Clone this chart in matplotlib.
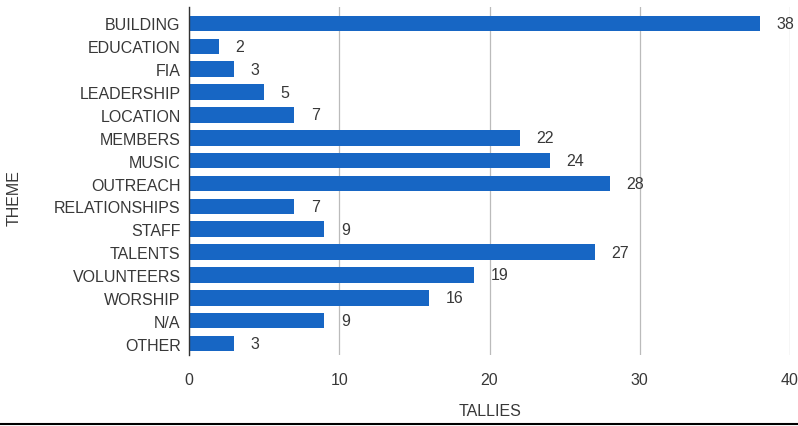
import matplotlib
matplotlib.use("Agg")
import matplotlib.pyplot as plt
from matplotlib.lines import Line2D

themes = ["BUILDING", "EDUCATION", "FIA", "LEADERSHIP", "LOCATION", "MEMBERS", "MUSIC",
          "OUTREACH", "RELATIONSHIPS", "STAFF", "TALENTS", "VOLUNTEERS", "WORSHIP", "N/A", "OTHER"]
tallies = [38, 2, 3, 5, 7, 22, 24, 28, 7, 9, 27, 19, 16, 9, 3]
xticks = [0, 10, 20, 30, 40]

plt.rcParams['font.family'] = ['Liberation Sans', 'DejaVu Sans']
FS = 11.5
TC = '#383838'

fig = plt.figure(figsize=(7.98, 4.27), dpi=100)
ax = fig.add_axes([189/798, 1 - 356/427, (790 - 189)/798, (356 - 8)/427])

y = list(range(len(themes)))
ax.barh(y, tallies, height=0.68, color='#1766c4', zorder=3)
for yi, v in zip(y, tallies):
    ax.text(v + 1.1, yi, str(v), va='center', ha='left', fontsize=FS, color=TC)

ax.set_xlim(0, 40)
ax.set_ylim(14.5, -0.72)
ax.set_yticks(y)
ax.set_yticklabels(themes, fontsize=FS, color=TC)
ax.set_xticks(xticks)
ax.set_xticklabels([str(t) for t in xticks], fontsize=FS, color=TC)
ax.tick_params(axis='both', length=0)
ax.tick_params(axis='y', pad=6)
ax.tick_params(axis='x', pad=12)
ax.grid(axis='x', color='#bbbbbb', linewidth=0.9, zorder=0)
for s in ['top', 'right', 'bottom']:
    ax.spines[s].set_visible(False)
ax.spines['left'].set_color('#333333')
ax.spines['left'].set_linewidth(1.0)
ax.spines['left'].set_zorder(4)

ax.set_xlabel('TALLIES', fontsize=FS, color=TC, va='center')
ax.xaxis.set_label_coords((490 - 189) / 601, -(412 - 356) / 348)
ax.set_ylabel('THEME', fontsize=FS, color=TC, va='center')
ax.yaxis.set_label_coords(-(189 - 14) / 601, (356 - 198) / 348)

fig.add_artist(Line2D([0, 1], [1 - 424.5/427] * 2, color='black', linewidth=1.5, transform=fig.transFigure))

fig.savefig('out.png', dpi=100)
